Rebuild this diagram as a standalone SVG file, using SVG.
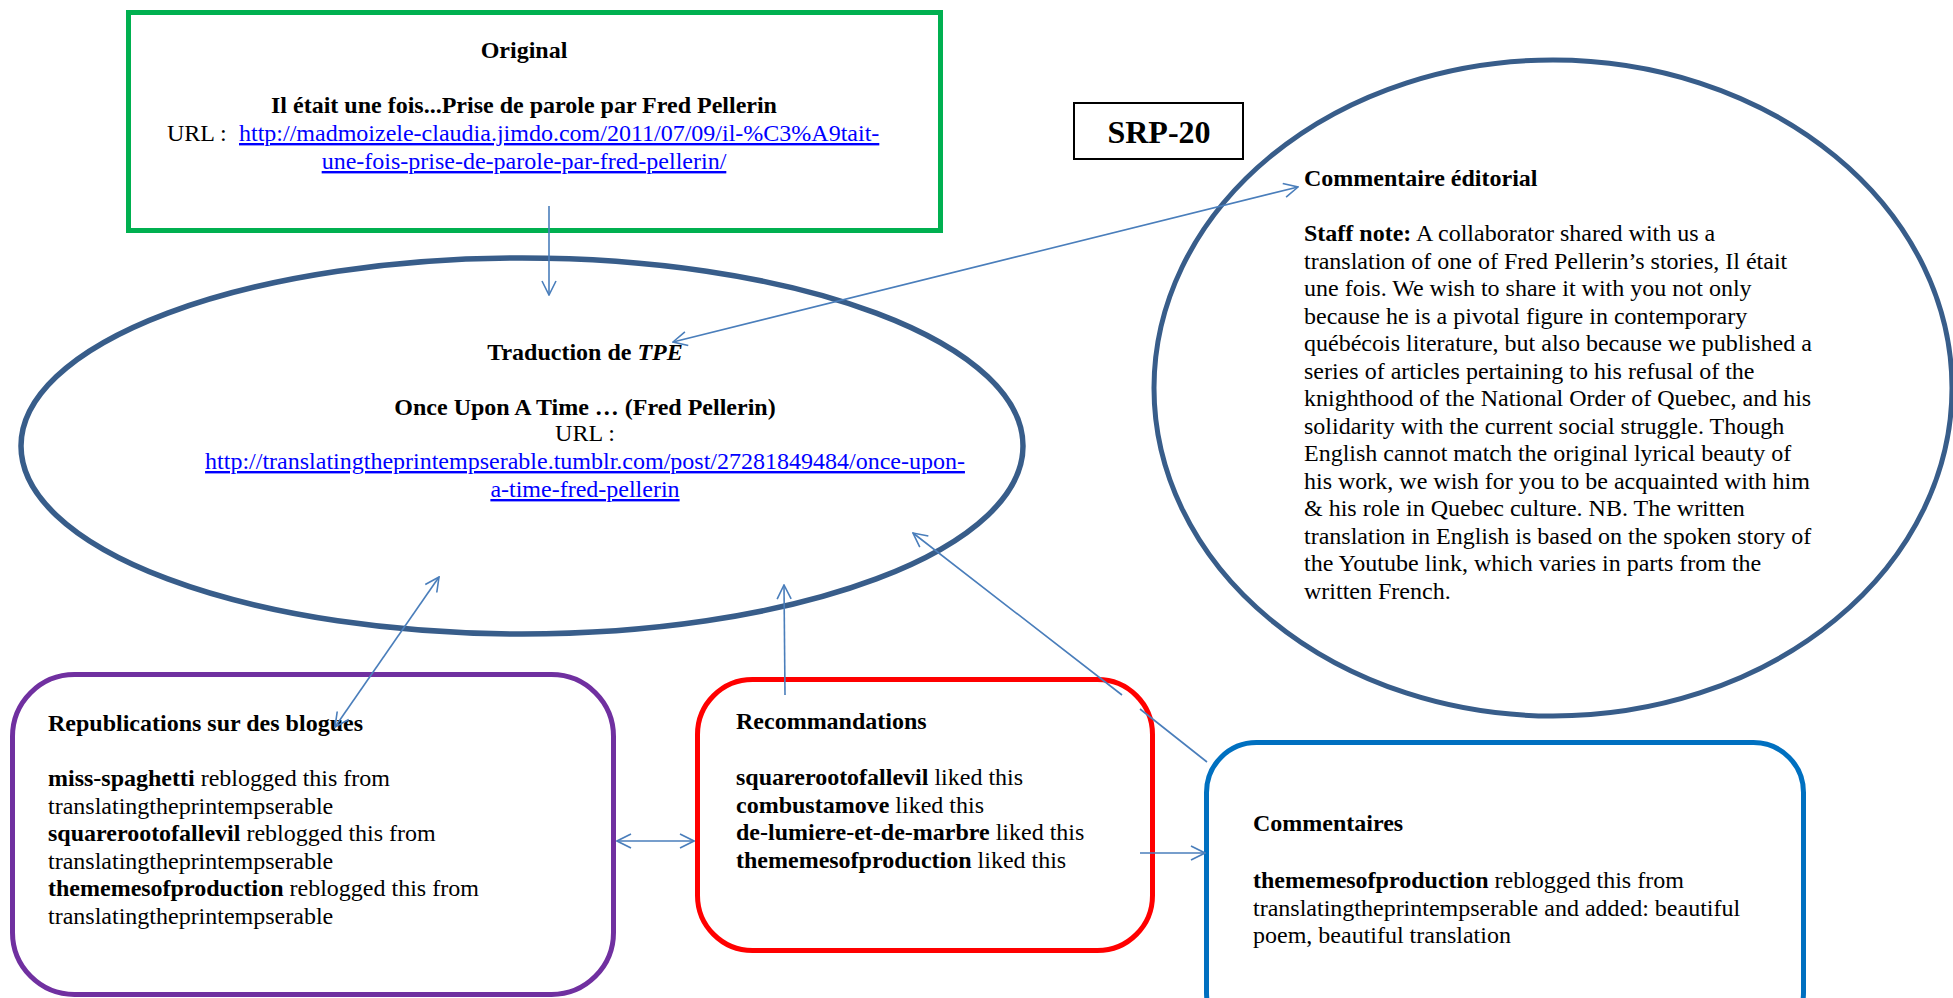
<svg xmlns="http://www.w3.org/2000/svg" width="1953" height="998" viewBox="0 0 1953 998">
<style>
text{font-family:"Liberation Serif","Times New Roman",serif;font-size:24px;fill:#000}
.b{font-weight:bold}
.c{text-anchor:middle}
.lnk{fill:#0000FF;text-decoration:underline}
.node{fill:#fff}
.conn{fill:none;stroke:#4A7EBB;stroke-width:1.6}
</style>
<defs>
<marker id="ah" viewBox="0 0 16 16" refX="15" refY="8" markerWidth="16" markerHeight="16" markerUnits="userSpaceOnUse" orient="auto-start-reverse">
<path d="M1,1 L15,8 L1,15" fill="none" stroke="#4A7EBB" stroke-width="1.6"/>
</marker>
</defs>
<rect width="1953" height="998" fill="#fff"/>

<g id="original">
<rect class="node" x="128.5" y="12.5" width="812" height="218" fill="#fff" stroke="#00B050" stroke-width="5"/>
<text class="b c" x="524" y="58">Original</text>
<text class="b c" x="524" y="113">Il était une fois...Prise de parole par Fred Pellerin</text>
<text x="167" y="141">URL :<tspan class="lnk" x="239">http://madmoizele-claudia.jimdo.com/2011/07/09/il-%C3%A9tait-</tspan></text>
<text class="c lnk" x="524" y="169">une-fois-prise-de-parole-par-fred-pellerin/</text>
</g>

<g id="srp20">
<rect x="1074" y="103" width="169" height="56" fill="#fff" stroke="#000" stroke-width="2"/>
<text class="b c" x="1159" y="143" style="font-size:32px">SRP-20</text>
</g>

<g id="traduction">
<ellipse cx="522" cy="446" rx="501" ry="188" fill="#fff" stroke="#385D8A" stroke-width="5.5"/>
<text class="b c" x="585" y="360">Traduction de <tspan font-style="italic">TPE</tspan></text>
<text class="b c" x="585" y="415">Once Upon A Time … (Fred Pellerin)</text>
<text class="c" x="585" y="441">URL :</text>
<text class="c lnk" x="585" y="469">http://translatingtheprintempserable.tumblr.com/post/27281849484/once-upon-</text>
<text class="c lnk" x="585" y="497">a-time-fred-pellerin</text>
</g>

<g id="commentaire-editorial">
<ellipse cx="1553" cy="388" rx="399" ry="328" fill="#fff" stroke="#385D8A" stroke-width="5"/>
<text class="b" x="1304" y="186">Commentaire éditorial</text>
<text x="1304" y="241"><tspan class="b">Staff note:</tspan> A collaborator shared with us a</text>
<text x="1304" y="268.5">translation of one of Fred Pellerin’s stories, Il était</text>
<text x="1304" y="296">une fois. We wish to share it with you not only</text>
<text x="1304" y="323.5">because he is a pivotal figure in contemporary</text>
<text x="1304" y="351">québécois literature, but also because we published a</text>
<text x="1304" y="378.5">series of articles pertaining to his refusal of the</text>
<text x="1304" y="406">knighthood of the National Order of Quebec, and his</text>
<text x="1304" y="433.5">solidarity with the current social struggle. Though</text>
<text x="1304" y="461">English cannot match the original lyrical beauty of</text>
<text x="1304" y="488.5">his work, we wish for you to be acquainted with him</text>
<text x="1304" y="516">&amp; his role in Quebec culture. NB. The written</text>
<text x="1304" y="543.5">translation in English is based on the spoken story of</text>
<text x="1304" y="571">the Youtube link, which varies in parts from the</text>
<text x="1304" y="598.5">written French.</text>
</g>

<g id="republications">
<rect x="12.5" y="674.5" width="601" height="320" rx="62" ry="62" fill="#fff" stroke="#7030A0" stroke-width="5"/>
<text class="b" x="48" y="731">Republications sur des blogues</text>
<text x="48" y="786"><tspan class="b">miss-spaghetti</tspan> reblogged this from</text>
<text x="48" y="813.5">translatingtheprintempserable</text>
<text x="48" y="841"><tspan class="b">squarerootofallevil</tspan> reblogged this from</text>
<text x="48" y="868.5">translatingtheprintempserable</text>
<text x="48" y="896"><tspan class="b">thememesofproduction</tspan> reblogged this from</text>
<text x="48" y="923.5">translatingtheprintempserable</text>
</g>

<g id="recommandations">
<rect x="697.5" y="679.5" width="455" height="271" rx="55" ry="55" fill="#fff" stroke="#FF0000" stroke-width="5"/>
<text class="b" x="736" y="729">Recommandations</text>
<text x="736" y="785"><tspan class="b">squarerootofallevil</tspan> liked this</text>
<text x="736" y="812.5"><tspan class="b">combustamove</tspan> liked this</text>
<text x="736" y="840"><tspan class="b">de-lumiere-et-de-marbre</tspan> liked this</text>
<text x="736" y="867.5"><tspan class="b">thememesofproduction</tspan> liked this</text>
</g>

<g id="commentaires">
<rect x="1206.5" y="742.5" width="597" height="300" rx="50" ry="50" fill="#fff" stroke="#0070C0" stroke-width="5"/>
<text class="b" x="1253" y="831">Commentaires</text>
<text x="1253" y="888"><tspan class="b">thememesofproduction</tspan> reblogged this from</text>
<text x="1253" y="915.5">translatingtheprintempserable and added: beautiful</text>
<text x="1253" y="943">poem, beautiful translation</text>
</g>

<g id="connectors">
<path class="conn" d="M549,206 L549,295" marker-end="url(#ah)"/>
<path class="conn" d="M673,342 L1298,187" marker-start="url(#ah)" marker-end="url(#ah)"/>
<path class="conn" d="M335,727 L439,577" marker-start="url(#ah)" marker-end="url(#ah)"/>
<path class="conn" d="M785,695 L784,585" marker-end="url(#ah)"/>
<path class="conn" d="M1207,762 L1140,709 M1122,695 L913,533" marker-end="url(#ah)"/>
<path class="conn" d="M617,841 L694,841" marker-start="url(#ah)" marker-end="url(#ah)"/>
<path class="conn" d="M1140,853 L1205,853" marker-end="url(#ah)"/>
</g>
</svg>
